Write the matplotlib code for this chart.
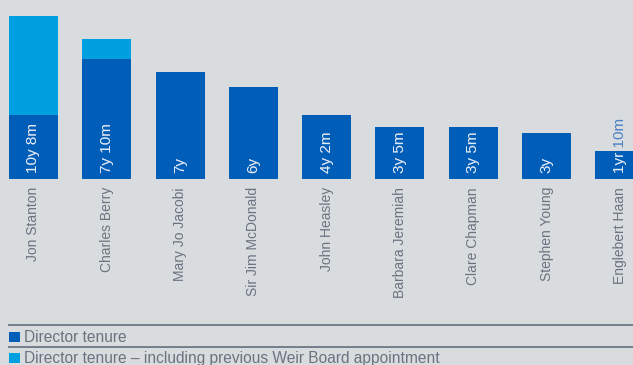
"""
Board director tenure bar chart.
"""

import matplotlib
matplotlib.use('Agg')
import matplotlib.pyplot as plt
from matplotlib.lines import Line2D
from matplotlib.patches import Rectangle

plt.rcParams['font.family'] = ['Liberation Sans', 'DejaVu Sans']

directors = ['Jon Stanton', 'Charles Berry', 'Mary Jo Jacobi', 'Sir Jim McDonald',
             'John Heasley', 'Barbara Jeremiah', 'Clare Chapman', 'Stephen Young',
             'Englebert Haan']
# tenure in years (current appointment)
tenure = [4.2, 7 + 10 / 12, 7.0, 6.0, 4 + 2 / 12, 3 + 5 / 12, 3 + 5 / 12, 3.0, 1 + 10 / 12]
# tenure including previous Weir Board appointment (None where not applicable)
tenure_incl = [10 + 8 / 12, 9.16, None, None, None, None, None, None, None]
tenure_labels = ['10y 8m', '7y 10m', '7y', '6y', '4y 2m', '3y 5m', '3y 5m', '3y', '1yr 10m']
legend_labels = ['Director tenure',
                 'Director tenure \u2013 including previous Weir Board appointment']

BG = '#d9dcdf'
DARK = '#005eb8'
LIGHT = '#00a0e0'
GREY_TEXT = '#6a737f'
RULE = '#6b7785'

W, H = 633, 365
fig = plt.figure(figsize=(W / 100, H / 100), dpi=100)
fig.patch.set_facecolor(BG)

ax = fig.add_axes([0, 1 - 179 / H, 1, 179 / H])
ax.set_facecolor(BG)
for s in ax.spines.values():
    s.set_visible(False)

x = list(range(len(directors)))
width = 0.67

# light segment sits on top of the current-tenure bar
for i, tot in enumerate(tenure_incl):
    if tot is not None:
        ax.bar(i, tot - tenure[i], width, bottom=tenure[i], color=LIGHT, linewidth=0)

bars = ax.bar(x, tenure, width, color=DARK, linewidth=0)

for i, (bar, lab) in enumerate(zip(bars, tenure_labels)):
    # blue text underneath, white copy clipped to the bar
    for col, clip in [('#4a80c6', False), ('#e4ebf5', True)]:
        t = ax.annotate(lab, xy=(i, 0), xytext=(0, 4.5), textcoords='offset points',
                        rotation=90, ha='center', va='bottom', fontsize=11, color=col)
        if clip:
            t.set_clip_path(bar)

ax.set_xlim(-0.457, 8.18)
ax.set_ylim(0, (10 + 8 / 12) * 179 / 163)
ax.set_yticks([])
ax.set_xticks(x)
ax.set_xticklabels(directors, rotation=90, fontsize=10, color=GREY_TEXT)
ax.tick_params(axis='x', length=0, pad=5.8)

# legend rows with separator rules
def px(xp, yp):
    return xp / W, 1 - yp / H

for y_line in (325, 347):
    x0, y0 = px(9, y_line)
    x1, _ = px(633, y_line)
    fig.add_artist(Line2D([x0, x1], [y0, y0], color=RULE, linewidth=1.3))

for (yt, col, lab) in [(332, DARK, legend_labels[0]), (353, LIGHT, legend_labels[1])]:
    x0, y0 = px(9, yt + 10)
    fig.add_artist(Rectangle((x0, y0), 11 / W, 10 / H, transform=fig.transFigure,
                             color=col, linewidth=0))
    tx, ty = px(24, yt + 5)
    fig.text(tx, ty, lab, fontsize=11.2, color=GREY_TEXT, ha='left', va='center')

fig.savefig('out.png', dpi=100, facecolor=BG)
plt.close(fig)
